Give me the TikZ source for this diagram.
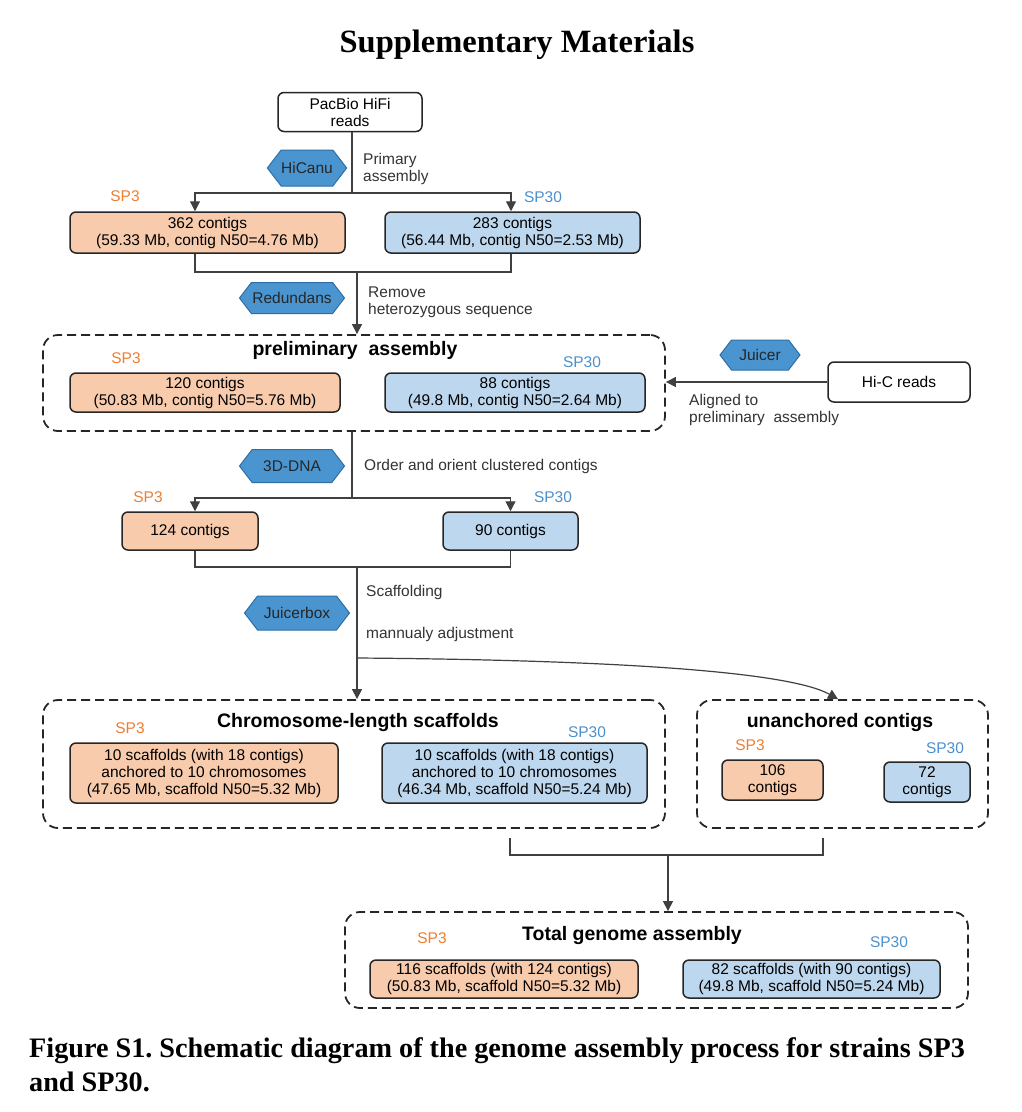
\documentclass[tikz,border=0pt]{standalone}
\usepackage{fontspec}
\setmainfont{Liberation Serif}
\setsansfont{Liberation Sans}
\usepackage{xcolor}
\usetikzlibrary{arrows.meta,shapes.symbols}

\definecolor{sp3fill}{HTML}{F8CBAD}
\definecolor{sp30fill}{HTML}{BDD7EE}
\definecolor{sp3text}{HTML}{ED7D31}
\definecolor{sp30text}{HTML}{4A90CC}
\definecolor{toolfill}{HTML}{4A95CF}
\definecolor{tooldraw}{HTML}{2E6EA6}
\definecolor{linegray}{HTML}{404040}

\begin{document}
\begin{tikzpicture}[x=1pt,y=1pt]
\tikzstyle{line} = [linegray, line width=1.2pt]
\tikzstyle{arrow} = [linegray, line width=1.2pt, -{Triangle[width=10pt,length=10pt]}]
\tikzstyle{txt} = [font=\sffamily\fontsize{15.5}{17}\selectfont]
\tikzstyle{whitebox} = [txt, draw=black!85, line width=1.5pt, fill=white, rounded corners=6pt, align=center, inner sep=0]
\tikzstyle{sp3box} = [whitebox, fill=sp3fill]
\tikzstyle{sp30box} = [whitebox, fill=sp30fill]
\tikzstyle{tool} = [txt, shape=signal, signal to=west and east, signal pointer angle=105, fill=toolfill, draw=tooldraw, line width=1pt, text=black!85, inner sep=0]
\tikzstyle{note} = [txt, anchor=west, align=left, text=black!80, inner sep=0]
\tikzstyle{groupbox} = [draw=black!85, line width=1.8pt, dash pattern=on 9pt off 5pt, rounded corners=15pt, inner sep=0]
\tikzstyle{grouptitle} = [font=\sffamily\bfseries\fontsize{19.5}{21}\selectfont, inner sep=0]
\tikzstyle{sp3tag} = [txt, text=sp3text, inner sep=0]
\tikzstyle{sp30tag} = [txt, text=sp30text, inner sep=0]

\useasboundingbox (0,0) rectangle (1022,-1112);

\node(heading)[font=\rmfamily\bfseries\fontsize{32.5}{36}\selectfont] at (517,-45) {Supplementary Materials};

% primary assembly
\node(pacbio)[whitebox, minimum width=144pt, minimum height=39pt] at (350,-112) {PacBio HiFi\\reads};
\node(hicanu)[tool, minimum width=79pt, minimum height=36pt] at (307,-168) {HiCanu};
\node(primary)[note] at (363,-169) {Primary\\assembly};
\node(sp3raw)[sp3box, minimum width=275pt, minimum height=41pt] at (207.5,-232.5) {362 contigs\\(59.33 Mb, contig N50=4.76 Mb)};
\node(sp30raw)[sp30box, minimum width=255pt, minimum height=41pt, right of=sp3raw, node distance=305pt] {283 contigs\\(56.44 Mb, contig N50=2.53 Mb)};
\node(sp3tagA)[sp3tag] at (125,-196) {SP3};
\node(sp30tagA)[sp30tag] at (543,-197) {SP30};
\coordinate (splitA) at (352,-193);
\coordinate (mergeA) at (357,-272);

% preliminary assembly
\node(redundans)[tool, minimum width=105pt, minimum height=31pt] at (292,-298) {Redundans};
\node(remove)[note] at (368,-302) {Remove\\heterozygous sequence};
\node(prelim)[groupbox, minimum width=622pt, minimum height=96pt] at (354,-383) {};
\node(prelimtitle)[grouptitle] at (355,-350) {preliminary\ \ assembly};
\node(sp3pre)[sp3box, minimum width=270pt, minimum height=39pt] at (205,-392.5) {120 contigs\\(50.83 Mb, contig N50=5.76 Mb)};
\node(sp30pre)[sp30box, minimum width=260pt, minimum height=39pt, right of=sp3pre, node distance=310pt] {88 contigs\\(49.8 Mb, contig N50=2.64 Mb)};
\node(sp3tagB)[sp3tag] at (126,-358) {SP3};
\node(sp30tagB)[sp30tag] at (582,-362) {SP30};
\node(juicer)[tool, minimum width=80pt, minimum height=30pt] at (760,-355) {Juicer};
\node(hic)[whitebox, minimum width=142pt, minimum height=40pt] at (899,-382) {Hi-C reads};
\node(aligned)[note] at (689,-410) {Aligned to\\preliminary\ \ assembly};

% contigs after 3D-DNA
\node(dna)[tool, minimum width=105pt, minimum height=33pt] at (292,-466) {3D-DNA};
\node(order)[note] at (364,-466) {Order and orient clustered contigs};
\node(sp3ctg)[sp3box, minimum width=136pt, minimum height=38pt] at (190,-531) {124 contigs};
\node(sp30ctg)[sp30box, minimum width=135pt, minimum height=38pt, right of=sp3ctg, node distance=320.5pt] {90 contigs};
\node(sp3tagC)[sp3tag] at (148,-497) {SP3};
\node(sp30tagC)[sp30tag] at (553,-497) {SP30};
\coordinate (splitC) at (352,-498);
\coordinate (mergeC) at (357,-567);

% scaffolding
\node(scaffolding)[note] at (366,-592) {Scaffolding};
\node(juicerbox)[tool, minimum width=105pt, minimum height=34pt] at (297,-613) {Juicerbox};
\node(manual)[note] at (366,-634) {mannualy adjustment};
\coordinate (fork) at (357,-658);

\node(chrom)[groupbox, minimum width=622pt, minimum height=128pt] at (354,-764) {};
\node(chromtitle)[grouptitle] at (358,-722) {Chromosome-length scaffolds};
\node(sp3chr)[sp3box, minimum width=268pt, minimum height=60pt] at (204,-773) {10 scaffolds (with 18 contigs)\\anchored to 10 chromosomes\\(47.65 Mb, scaffold N50=5.32 Mb)};
\node(sp30chr)[sp30box, minimum width=265pt, minimum height=60pt, right of=sp3chr, node distance=310.5pt] {10 scaffolds (with 18 contigs)\\anchored to 10 chromosomes\\(46.34 Mb, scaffold N50=5.24 Mb)};
\node(sp3tagD)[sp3tag] at (130,-728) {SP3};
\node(sp30tagD)[sp30tag] at (587,-732) {SP30};

\node(unanch)[groupbox, minimum width=291pt, minimum height=128pt] at (842.5,-764) {};
\node(unanchtitle)[grouptitle] at (840,-722) {unanchored contigs};
\node(sp3un)[sp3box, minimum width=101pt, minimum height=40pt] at (772.5,-780) {106\\contigs};
\node(sp30un)[sp30box, minimum width=86pt, minimum height=40pt] at (927,-782) {72\\contigs};
\node(sp3tagE)[sp3tag] at (750,-745) {SP3};
\node(sp30tagE)[sp30tag] at (945,-748) {SP30};
\coordinate (chromout) at (510,-838);
\coordinate (unout) at (823,-838);
\coordinate (mergeE) at (668,-855);

% total genome assembly
\node(total)[groupbox, minimum width=623pt, minimum height=96pt] at (656.5,-960) {};
\node(totaltitle)[grouptitle] at (632,-935) {Total genome assembly};
\node(sp3tot)[sp3box, minimum width=268pt, minimum height=38pt] at (504,-979) {116 scaffolds (with 124 contigs)\\(50.83 Mb, scaffold N50=5.32 Mb)};
\node(sp30tot)[sp30box, minimum width=257pt, minimum height=38pt, right of=sp3tot, node distance=307.5pt] {82 scaffolds (with 90 contigs)\\(49.8 Mb, scaffold N50=5.24 Mb)};
\node(sp3tagF)[sp3tag] at (432,-938) {SP3};
\node(sp30tagF)[sp30tag] at (889,-942) {SP30};

\node(caption)[font=\rmfamily\bfseries\fontsize{28.2}{34}\selectfont\frenchspacing, anchor=north west, align=left, inner sep=0] at (29,-1037) {Figure S1. Schematic diagram of the genome assembly process for strains SP3\\and SP30.};

% connectors
\draw [line] (pacbio.south -| splitA) -- (splitA);
\draw [arrow] (splitA) -| ([xshift=-12.5pt]sp3raw.north);
\draw [arrow] (splitA) -| ([xshift=-1.5pt]sp30raw.north);
\draw [line] ([xshift=-12.5pt]sp3raw.south) |- (mergeA) -| ([xshift=-1.5pt]sp30raw.south);
\draw [arrow] (mergeA) -- (mergeA |- prelim.north);
\draw [arrow] (hic.west) -- (hic.west -| prelim.east);
\draw [line] ([xshift=-2pt]prelim.south) -- (splitC);
\draw [arrow] (splitC) -| ([xshift=5pt]sp3ctg.north);
\draw [arrow] (splitC) -| (sp30ctg.north);
\draw [line] ([xshift=5pt]sp3ctg.south) |- (mergeC) -| (sp30ctg.south);
\draw [arrow] (mergeC) -- (mergeC |- chrom.north);
\draw [arrow] (fork) .. controls (620,-660) and (790,-672) .. (unanch.north -| 838,0);
\draw [line] (chromout) |- (mergeE) -| (unout);
\draw [arrow] (mergeE) -- (mergeE |- total.north);
\end{tikzpicture}
\end{document}
